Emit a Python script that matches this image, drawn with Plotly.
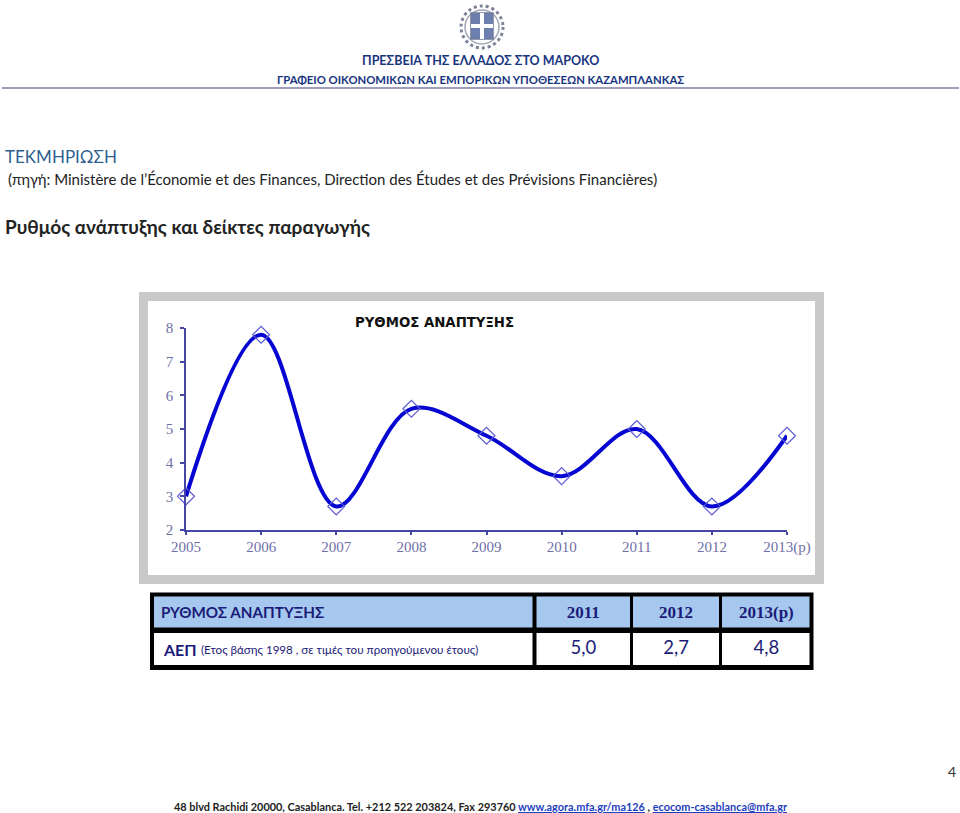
import plotly.graph_objects as go

W, H = 960, 813

years = ["2005", "2006", "2007", "2008", "2009", "2010", "2011", "2012", "2013(p)"]
growth = [3.0, 7.8, 2.7, 5.6, 4.8, 3.6, 5.0, 2.7, 4.8]
y_ticks = [2, 3, 4, 5, 6, 7, 8]

table_columns = ["ΡΥΘΜΟΣ ΑΝΑΠΤΥΞΗΣ", "2011", "2012", "2013(p)"]
table_row_label = "ΑΕΠ"
table_row_note = "(Ετος βάσης 1998 , σε τιμές του προηγούμενου έτους)"
table_values = ["5,0", "2,7", "4,8"]

BODY = "Lato, 'Noto Sans', sans-serif"
AXIS_COL = "#4646a6"
TICK_COL = "#6f6fa8"
NAVY = "#1b1b78"


def px_x(x):
    return x / W


def px_y(y):
    return 1 - y / H


def label(x, y, text, size, color="#222222", anchor="left", family=BODY):
    return dict(x=px_x(x), y=px_y(y), xref="paper", yref="paper", text=text,
                showarrow=False, xanchor=anchor, yanchor="middle",
                font=dict(size=size, color=color, family=family))


def box(x0, y0, x1, y1, **kw):
    return dict(type="rect", xref="paper", yref="paper", layer="below",
                x0=px_x(x0), x1=px_x(x1), y0=px_y(y0), y1=px_y(y1), **kw)


fig = go.Figure()

fig.add_trace(go.Scatter(
    x=years, y=growth, mode="lines+markers", cliponaxis=False,
    line=dict(color="#0606d2", width=4, shape="spline", smoothing=1.0),
    marker=dict(symbol="diamond-open", size=13, color="#5a5ad4", line=dict(width=1.2, color="#5a5ad4")),
    showlegend=False,
))

# table under the chart
fig.add_trace(go.Table(
    domain=dict(x=[px_x(151), px_x(812)], y=[px_y(669), px_y(595)]),
    columnwidth=[383, 96, 89, 91],
    header=dict(
        values=["<b>\u2009" + table_columns[0] + "</b>"] + ["<b>" + c + "</b>" for c in table_columns[1:]],
        fill_color="#a6c8ee",
        line=dict(color="#000000", width=2.5),
        align=["left", "center", "center", "center"],
        height=37,
        font=dict(
            size=[15.2, 17, 17, 17],
            color=NAVY,
            family=[BODY, "Liberation Serif", "Liberation Serif", "Liberation Serif"],
        ),
    ),
    cells=dict(
        values=[[""]] + [[v] for v in table_values],
        fill_color="#ffffff",
        line=dict(color="#000000", width=2.5),
        align=["left", "center", "center", "center"],
        height=34,
        font=dict(size=18.5, color=NAVY, family=BODY),
    ),
))

shapes = [
    # header rule
    dict(type="line", xref="paper", yref="paper", x0=px_x(2), x1=px_x(959), y0=px_y(88), y1=px_y(88),
         line=dict(color="#9d9dbd", width=2)),
    # chart frame
    box(143.5, 296.5, 819.5, 579.5, line=dict(color="#c9c9c9", width=9), fillcolor="#ffffff"),
    # table outer border, row separator, first column rule
    dict(type="rect", xref="paper", yref="paper", layer="above",
         x0=px_x(152), x1=px_x(811.5), y0=px_y(668), y1=px_y(594.5),
         line=dict(color="#000000", width=4)),
    dict(type="line", xref="paper", yref="paper", layer="above",
         x0=px_x(152), x1=px_x(811.5), y0=px_y(630), y1=px_y(630),
         line=dict(color="#000000", width=5)),
    dict(type="line", xref="paper", yref="paper", layer="above",
         x0=px_x(534.5), x1=px_x(534.5), y0=px_y(596), y1=px_y(667),
         line=dict(color="#000000", width=4)),
    # emblem
    dict(type="circle", xref="paper", yref="paper", x0=px_x(461), x1=px_x(503), y0=px_y(48), y1=px_y(6),
         line=dict(color="#7d8296", width=3, dash="dot"), fillcolor="#ffffff"),
    dict(type="circle", xref="paper", yref="paper", x0=px_x(465), x1=px_x(499), y0=px_y(44), y1=px_y(10),
         line=dict(color="#a4a8b6", width=1.5), fillcolor="#ffffff"),
    box(471, 13, 493, 39, line=dict(color="#6f7a9a", width=1.5), fillcolor="#6d7fae"),
    box(480, 13, 484, 39, line=dict(width=0), fillcolor="#ffffff"),
    box(471, 24, 493, 28, line=dict(width=0), fillcolor="#ffffff"),
]
for s in shapes[5:]:
    s["layer"] = "above"

annotations = [
    label(480, 61, "<b>ΠΡΕΣΒΕΙΑ ΤΗΣ ΕΛΛΑΔΟΣ ΣΤΟ ΜΑΡΟΚΟ</b>", 12.5, "#17357f", "center"),
    label(480, 79, "<b>ΓΡΑΦΕΙΟ ΟΙΚΟΝΟΜΙΚΩΝ ΚΑΙ ΕΜΠΟΡΙΚΩΝ ΥΠΟΘΕΣΕΩΝ ΚΑΖΑΜΠΛΑΝΚΑΣ</b>", 11.3, "#17357f", "center"),
    label(3, 156, "ΤΕΚΜΗΡΙΩΣΗ", 17, "#2f5f8f"),
    label(6, 179, "(πηγή: Ministère de l’Économie et des Finances, Direction des Études et des Prévisions Financières)", 15),
    label(3, 226, "<b>Ρυθμός ανάπτυξης και δείκτες παραγωγής</b>", 19),
    label(434, 323, "<b>ΡΥΘΜΟΣ ΑΝΑΠΤΥΞΗΣ</b>", 13.3, "#111111", "center", "DejaVu Sans"),
    label(161, 649, "<b>" + table_row_label + "</b>", 16, NAVY),
    label(199, 649, table_row_note, 11.6, NAVY),
    label(958, 771, "4", 14, "#333333", "right"),
    label(481, 806, "<b>48 blvd Rachidi 20000, Casablanca. Tel. +212 522 203824, Fax 293760 "
          "<span style='color:#1f3fbf'><u>www.agora.mfa.gr/ma126</u></span> , "
          "<span style='color:#1f3fbf'><u>ecocom-casablanca@mfa.gr</u></span></b>", 10.9, "#222222", "center"),
]

fig.update_layout(
    width=W, height=H,
    margin=dict(l=0, r=0, t=0, b=0, autoexpand=False),
    paper_bgcolor="#ffffff", plot_bgcolor="rgba(0,0,0,0)",
    shapes=shapes, annotations=annotations,
    xaxis=dict(
        domain=[px_x(186), px_x(787)], range=[0, 8], type="category",
        categoryorder="array", categoryarray=years,
        showgrid=False, zeroline=False, showline=True, linecolor=AXIS_COL, linewidth=1.5,
        ticks="outside", ticklen=3, tickcolor=AXIS_COL, tickwidth=1.5, ticklabelstandoff=-1,
        tickfont=dict(family="Liberation Serif", size=15, color=TICK_COL),
    ),
    yaxis=dict(
        domain=[px_y(530), px_y(328)], range=[2, 8], tickvals=y_ticks,
        showgrid=False, zeroline=False, showline=True, linecolor=AXIS_COL, linewidth=1.5,
        ticks="outside", ticklen=4, tickcolor=AXIS_COL, tickwidth=1.5, ticklabelstandoff=4,
        tickfont=dict(family="Liberation Serif", size=15, color=TICK_COL),
    ),
)

# the page's default body margin would push the figure 8px off
fig.write_html("out.html", config=dict(displayModeBar=False),
               post_script="document.body.style.margin='0';")
